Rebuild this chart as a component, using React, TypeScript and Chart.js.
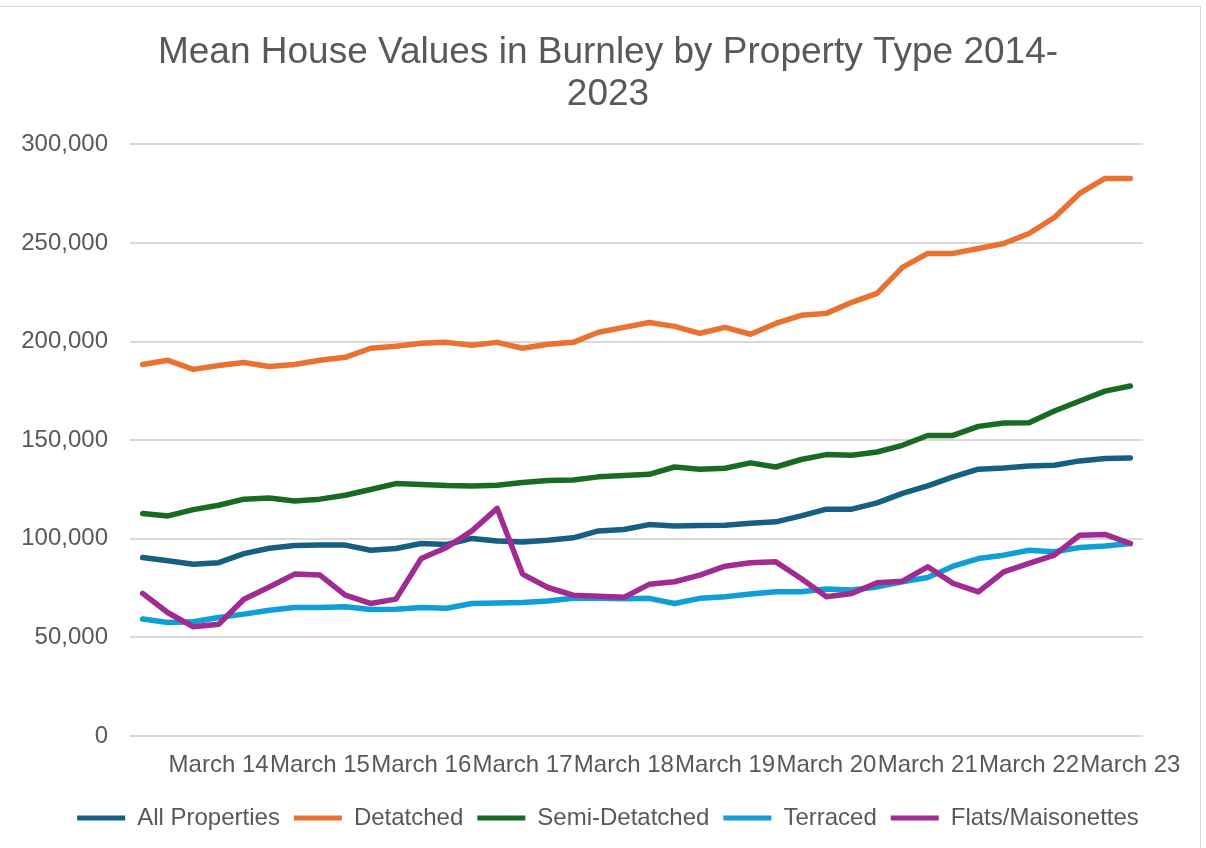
import React, { useEffect, useRef } from "react";
import { Chart, registerables } from "chart.js";

Chart.register(...registerables);

const quarters = [
  "June 13", "September 13", "December 13",
  "March 14", "June 14", "September 14", "December 14",
  "March 15", "June 15", "September 15", "December 15",
  "March 16", "June 16", "September 16", "December 16",
  "March 17", "June 17", "September 17", "December 17",
  "March 18", "June 18", "September 18", "December 18",
  "March 19", "June 19", "September 19", "December 19",
  "March 20", "June 20", "September 20", "December 20",
  "March 21", "June 21", "September 21", "December 21",
  "March 22", "June 22", "September 22", "December 22",
  "March 23",
];

const allProperties = [
  90500, 88900, 87100, 87900, 92500, 95200, 96600, 96800, 96800, 94200,
  95100, 97600, 97100, 100200, 98900, 98400, 99300, 100500, 104000, 104700,
  107200, 106500, 106700, 106900, 107900, 108600, 111600, 115000, 115000, 118200,
  123000, 126800, 131400, 135300, 135900, 136900, 137300, 139500, 140700, 141000,
];

const detached = [
  188400, 190500, 185900, 187900, 189400, 187400, 188400, 190500, 192000, 196600,
  197600, 199100, 199600, 198100, 199600, 196600, 198600, 199600, 204700, 207200,
  209700, 207700, 204200, 207200, 203700, 209200, 213300, 214300, 219900, 224400,
  237600, 244700, 244700, 247200, 249700, 254800, 262900, 275100, 282700, 282700,
];

const semiDetached = [
  112800, 111600, 114800, 117000, 120100, 120700, 119200, 120100, 122100, 125000,
  128000, 127500, 127000, 126800, 127200, 128500, 129500, 129800, 131400, 132100,
  132700, 136400, 135300, 135800, 138500, 136400, 140200, 142700, 142400, 144000,
  147400, 152400, 152400, 157000, 158700, 158900, 164800, 169900, 174900, 177500,
];

const terraced = [
  59300, 57600, 57900, 60100, 61800, 63800, 65200, 65200, 65500, 64200,
  64300, 65200, 64800, 67200, 67500, 67700, 68500, 69800, 69800, 69600,
  69800, 67200, 69800, 70600, 72000, 73100, 73100, 74500, 74000, 75600,
  78200, 80400, 86100, 90000, 91700, 94200, 93400, 95600, 96300, 97600,
];

const flats = [
  72300, 62500, 55400, 56700, 69300, 75600, 82100, 81600, 71400, 67200,
  69400, 90000, 95600, 104000, 115400, 82100, 75300, 71400, 70900, 70300,
  76900, 78200, 81600, 86100, 87800, 88300, 79900, 70600, 72300, 77700,
  78500, 85800, 77400, 73100, 83200, 87500, 91700, 101800, 102200, 97600,
];

const seriesNames = ["All Properties", "Detatched", "Semi-Detatched", "Terraced", "Flats/Maisonettes"];
const seriesColors = ["#156082", "#E97132", "#196B24", "#0F9ED5", "#A02B93"];
const seriesData = [allProperties, detached, semiDetached, terraced, flats];

const titleLines = ["Mean House Values in Burnley by Property Type 2014-", "2023"];

const FONT = "'Liberation Sans', Arial, sans-serif";
const TEXT = "#595959";

const framePlugin = {
  id: "frame",
  beforeDraw(chart: any) {
    const { ctx, height } = chart;
    ctx.save();
    ctx.fillStyle = "#ffffff";
    ctx.fillRect(0, 0, chart.width, height);
    ctx.strokeStyle = "#d9d9d9";
    ctx.lineWidth = 1;
    ctx.beginPath();
    ctx.moveTo(0, 6.5);
    ctx.lineTo(1200.5, 6.5);
    ctx.lineTo(1200.5, height);
    ctx.stroke();
    ctx.restore();
  },
};

export default function App() {
  const ref = useRef<HTMLCanvasElement | null>(null);

  useEffect(() => {
    if (!ref.current) return;
    const n = seriesNames.length;
    const chart = new Chart(ref.current, {
      type: "line",
      data: {
        labels: quarters,
        datasets: seriesNames.map((name, i) => ({
          label: name,
          data: seriesData[i],
          borderColor: seriesColors[i],
          backgroundColor: seriesColors[i],
          borderWidth: 5.5,
          pointRadius: 0,
          pointHoverRadius: 0,
          tension: 0,
          borderJoinStyle: "round" as const,
          borderCapStyle: "round" as const,
          fill: false,
          order: n - i,
        })),
      },
      options: {
        responsive: false,
        animation: false,
        layout: { padding: { left: 10, right: 0, top: 0, bottom: 8 } },
        scales: {
          x: {
            type: "category",
            offset: true,
            grid: { display: false, drawTicks: false },
            border: { display: false },
            ticks: {
              autoSkip: false,
              maxRotation: 0,
              minRotation: 0,
              padding: 15,
              color: TEXT,
              font: { family: FONT, size: 24 },
              callback: function (this: any, _v: any, idx: number) {
                const l = quarters[idx];
                return l.startsWith("March") ? l : "";
              },
            },
            afterFit: (scale: any) => {
              scale.height = 56;
            },
          },
          y: {
            type: "linear",
            position: "left",
            min: 0,
            max: 300000,
            grid: { color: "#d9d9d9", lineWidth: 2, drawTicks: false },
            border: { display: false },
            ticks: {
              stepSize: 50000,
              padding: 22,
              color: TEXT,
              font: { family: FONT, size: 24 },
              callback: (v: any) => Number(v).toLocaleString("en-US"),
            },
            afterFit: (scale: any) => {
              scale.width = 120;
            },
          },
          yRight: {
            type: "linear",
            position: "right",
            display: true,
            grid: { display: false, drawTicks: false },
            border: { display: false },
            ticks: { display: false },
            afterFit: (scale: any) => {
              scale.width = 63;
            },
          },
        },
        plugins: {
          title: {
            display: true,
            text: titleLines,
            color: TEXT,
            font: { family: FONT, size: 37, weight: "normal", lineHeight: 1.14 },
            padding: { top: 32, bottom: 28 },
          },
          legend: {
            display: true,
            position: "bottom",
            labels: {
              boxWidth: 48,
              boxHeight: 5,
              padding: 14,
              color: TEXT,
              font: { family: FONT, size: 24 },
              sort: (a: any, b: any) => a.datasetIndex - b.datasetIndex,
              generateLabels: (c: any) => {
                const items = Chart.defaults.plugins.legend.labels.generateLabels(c);
                return items.map((it: any) => ({ ...it, lineWidth: 0, fillStyle: it.strokeStyle }));
              },
            },
          },
          tooltip: { enabled: false },
        },
      },
      plugins: [framePlugin],
    });
    return () => chart.destroy();
  }, []);

  return (
    <div style={{ position: "fixed", left: 0, top: 0, width: 1206, height: 848, background: "#fff" }}>
      <canvas ref={ref} width={1206} height={848} style={{ display: "block", width: 1206, height: 848 }} />
    </div>
  );
}
